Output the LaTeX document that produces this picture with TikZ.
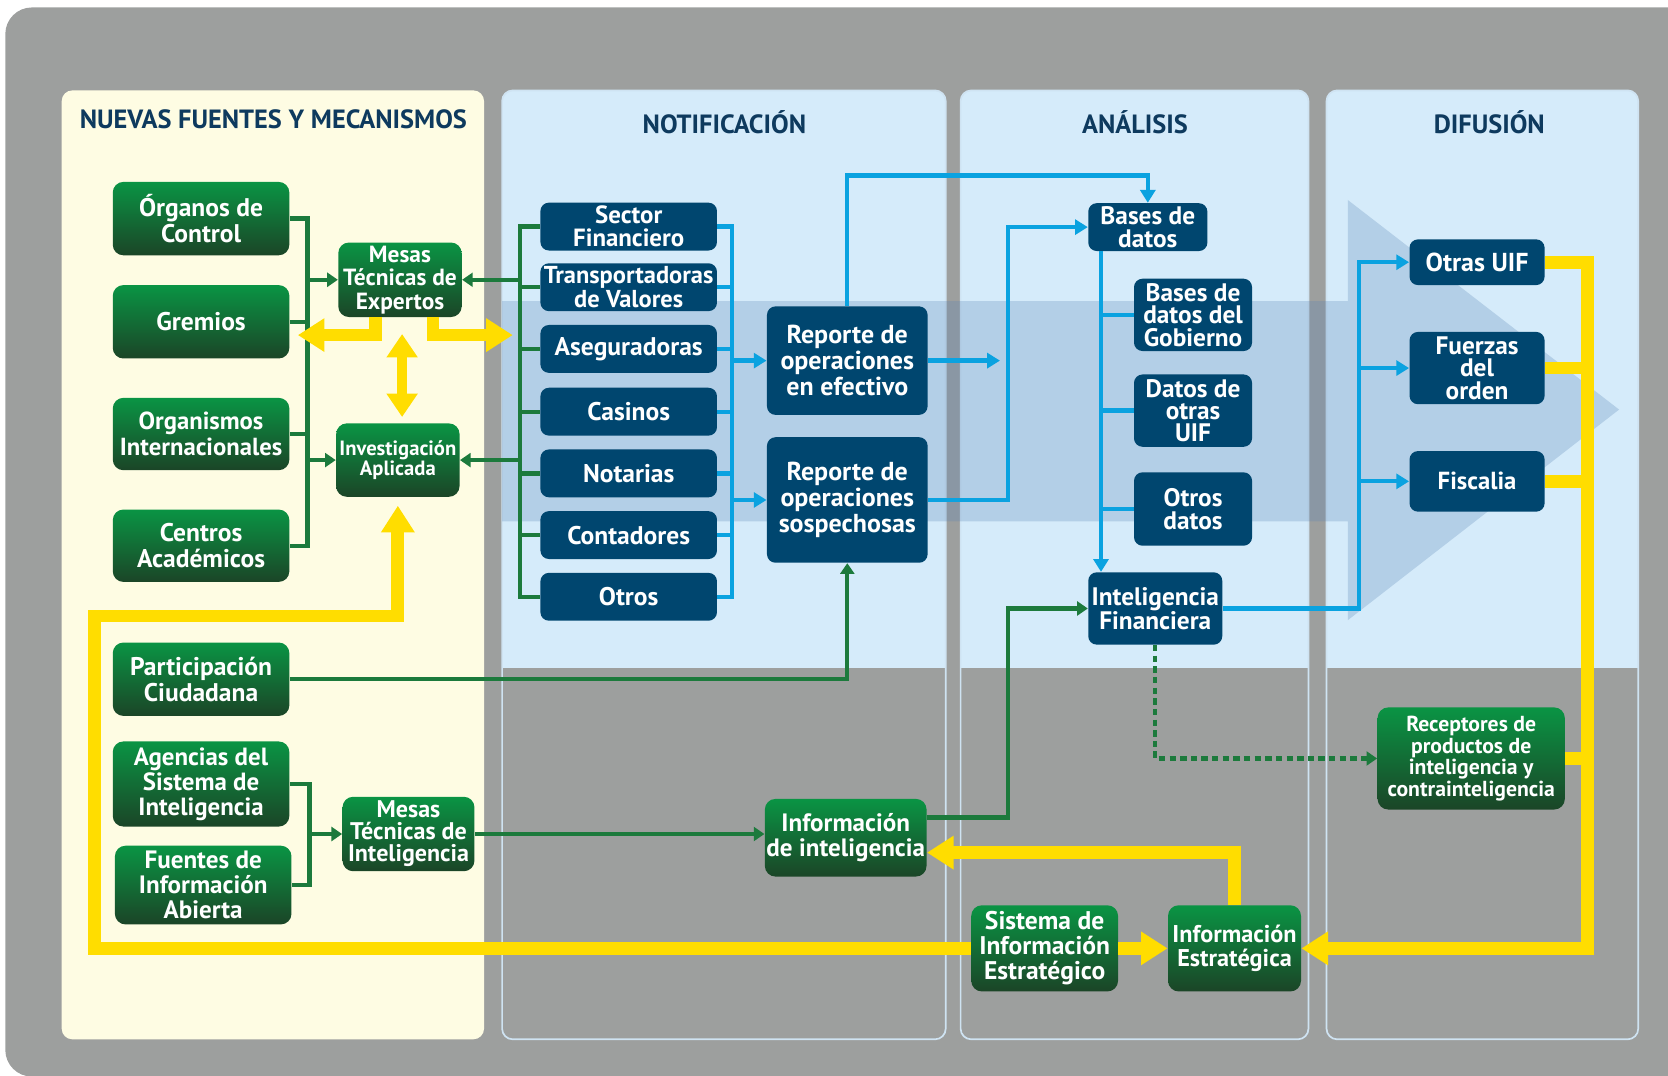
\documentclass[tikz,border=0pt]{standalone}
\usepackage{fontspec}
\setmainfont{PT Sans}
\usetikzlibrary{arrows.meta}
\definecolor{bg}{HTML}{9D9F9E}
\definecolor{cream}{HTML}{FEFCE3}
\definecolor{lblue}{HTML}{D5EBFA}
\definecolor{pline}{HTML}{CFE3F2}
\definecolor{navy}{HTML}{00466F}
\definecolor{cyanl}{HTML}{0AA2E0}
\definecolor{gline}{HTML}{1C7A3C}
\definecolor{yel}{HTML}{FFDD00}
\definecolor{gtop}{HTML}{0A9444}
\definecolor{gbot}{HTML}{1B4527}
\definecolor{headc}{HTML}{0E3A5E}
\definecolor{bandc}{RGB}{89,133,181}
\newcommand{\fsz}[2]{\fontsize{#1}{#2}\selectfont\bfseries}
\begin{document}
\begin{tikzpicture}[x=0.5pt,y=-0.5pt,
  gbox/.style={rounded corners=5pt, top color=gtop, bottom color=gbot, text=white, align=center, inner sep=0pt},
  bbox/.style={rounded corners=4pt, fill=navy, text=white, align=center, inner sep=0pt},
  gl/.style={draw=gline, line width=2pt},
  ga/.style={gl, -{Triangle[length=5pt,width=6.5pt]}},
  cl/.style={draw=cyanl, line width=2pt},
  ca/.style={cl, -{Triangle[length=6pt,width=7pt]}},
  yl/.style={draw=yel, line width=6pt},
  ya/.style={yl, -{Triangle[length=12.5pt,width=15pt]}},
  hd/.style={text=headc, font=\fsz{12.4}{12.4}}
]
\useasboundingbox (0,0) rectangle (1568,1011);
% background
\fill[bg, rounded corners=12.5pt] (5,7) rectangle (1620,1012);
\fill[cream, rounded corners=5pt] (58,85) rectangle (455,977);
\foreach \xa/\xb in {472/889, 903/1230, 1247/1540}{
  \fill[lblue, rounded corners=5pt] (\xa,85) rectangle (\xb,977);
  \fill[bg] (\xa-2,628) rectangle (\xb+2,980);
  \draw[pline, line width=0.8pt, rounded corners=5pt] (\xa,85) rectangle (\xb,977);
}
% big band arrow
\fill[bandc, opacity=0.27] (472,283) -- (1267,283) -- (1267,188) -- (1522,385) -- (1267,583) -- (1267,490) -- (472,490) -- cycle;
% headers
\node[hd] (hnf) at (257,112) {NUEVAS FUENTES Y MECANISMOS};
\node[hd] (hno) at (681,115) {NOTIFICACIÓN};
\node[hd] (han) at (1067,115) {ANÁLISIS};
\node[hd] (hdi) at (1400,115) {DIFUSIÓN};
% left green boxes
\node[gbox, minimum width=83pt, minimum height=34.5pt, font=\fsz{12}{12}] (org) at (189,205.5) {Órganos de\\Control};
\node[gbox, minimum width=83pt, minimum height=34.5pt, font=\fsz{12}{12}] (grem) at (189,302.5) {Gremios};
\node[gbox, minimum width=83pt, minimum height=34pt, font=\fsz{11.6}{12}] (orgint) at (189,408) {Organismos\\Internacionales};
\node[gbox, minimum width=83pt, minimum height=34pt, font=\fsz{12}{12}] (cen) at (189,513) {Centros\\Académicos};
\node[gbox, minimum width=83pt, minimum height=34.5pt, font=\fsz{12}{12}] (par) at (189,638.5) {Participación\\Ciudadana};
\node[gbox, minimum width=83pt, minimum height=40pt, font=\fsz{11.7}{11.75}] (age) at (189,737) {Agencias del\\Sistema de\\Inteligencia};
\node[gbox, minimum width=83pt, minimum height=37pt, font=\fsz{11.8}{11.75}] (fue) at (191,832) {Fuentes de\\Información\\Abierta};
\node[gbox, minimum width=58pt, minimum height=35pt, font=\fsz{11}{11}] (mte) at (376,263) {Mesas\\Técnicas de\\Expertos};
\node[gbox, minimum width=58pt, minimum height=34.5pt, font=\fsz{9.7}{9.5}] (inv) at (374,432.5) {Investigación\\Aplicada};
\node[gbox, minimum width=62pt, minimum height=35pt, font=\fsz{11.3}{10.3}] (mti) at (384,784) {Mesas\\Técnicas de\\Inteligencia};
% notificacion boxes
\node[bbox, minimum width=83pt, minimum height=22.5pt, font=\fsz{11.7}{11}] (sf) at (591,213) {Sector\\Financiero};
\node[bbox, minimum width=83pt, minimum height=22.5pt, font=\fsz{11.5}{11}] (tv) at (591,270) {Transportadoras\\de Valores};
\node[bbox, minimum width=83pt, minimum height=22.5pt, font=\fsz{12}{12}] (as) at (591,328) {Aseguradoras};
\node[bbox, minimum width=83pt, minimum height=22.5pt, font=\fsz{12}{12}] (ca) at (591,387) {Casinos};
\node[bbox, minimum width=83pt, minimum height=22.5pt, font=\fsz{12}{12}] (no) at (591,445) {Notarias};
\node[bbox, minimum width=83pt, minimum height=22.5pt, font=\fsz{12}{12}] (co) at (591,503) {Contadores};
\node[bbox, minimum width=83pt, minimum height=22.5pt, font=\fsz{12}{12}] (ot) at (591,561) {Otros};
\node[bbox, minimum width=75.5pt, minimum height=51pt, font=\fsz{12.2}{12.3}] (rce) at (796.5,339) {Reporte de\\operaciones\\en efectivo};
\node[bbox, minimum width=75.5pt, minimum height=59pt, font=\fsz{12.2}{12.3}] (ros) at (796.5,470) {Reporte de\\operaciones\\sospechosas};
% analisis boxes
\node[bbox, minimum width=56pt, minimum height=22.5pt, font=\fsz{11.9}{10.5}] (bd) at (1079,213.5) {Bases de\\datos};
\node[bbox, minimum width=55.5pt, minimum height=34pt, font=\fsz{11.9}{10.5}] (bdg) at (1121.5,296) {Bases de\\datos del\\Gobierno};
\node[bbox, minimum width=55.5pt, minimum height=34pt, font=\fsz{11.9}{10.5}] (duif) at (1121.5,386) {Datos de\\otras\\UIF};
\node[bbox, minimum width=55.5pt, minimum height=34.5pt, font=\fsz{11.9}{10.8}] (od) at (1121.5,478.5) {Otros\\datos};
\node[bbox, minimum width=63pt, minimum height=34pt, font=\fsz{11.9}{11.5}] (if) at (1086,572) {Inteligencia\\Financiera};
% difusion boxes
\node[bbox, minimum width=63.5pt, minimum height=21.5pt, font=\fsz{12.2}{12}] (ouif) at (1388.5,246.5) {Otras UIF};
\node[bbox, minimum width=63.5pt, minimum height=34pt, font=\fsz{11.9}{10.5}] (fdo) at (1388.5,346) {Fuerzas\\del\\orden};
\node[bbox, minimum width=63.5pt, minimum height=28.5pt, font=\fsz{11.6}{12}] (fis) at (1388.5,452.5) {Fiscalia};
\node[gbox, minimum width=88pt, minimum height=48pt, font=\fsz{10.2}{10.2}] (rec) at (1383,713) {Receptores de\\productos de\\inteligencia y\\contrainteligencia};
% bottom boxes
\node[gbox, minimum width=76pt, minimum height=36.5pt, font=\fsz{11.8}{11.5}] (ii) at (795,787.5) {Información\\de inteligencia};
\node[gbox, minimum width=69pt, minimum height=40.5pt, font=\fsz{12}{11.75}] (sis) at (982,891.5) {Sistema de\\Información\\Estratégico};
\node[gbox, minimum width=62.5pt, minimum height=40.5pt, font=\fsz{11.4}{11.5}] (ie) at (1160.5,891.5) {Información\\Estratégica};
% coordinates
\coordinate (Lt) at (289,300);
\coordinate (Nt) at (489,300);
\coordinate (Bt) at (291,780);
\coordinate (Rt) at (688,300);
\coordinate (At) at (1035,300);
\coordinate (Dt) at (1277,572);
\coordinate (Yt) at (1492,500);
\coordinate (YL) at (89,579);
\coordinate (cT) at (796.5,165);
\coordinate (bandin) at (940,339);
\coordinate (mL) at (353,315);
\coordinate (mLt) at (280,315);
\coordinate (mR) at (407,315);
\coordinate (mRt) at (482,315);
\coordinate (dv1) at (378,314);
\coordinate (dv2) at (378,392);
% green connectors
\draw[gl] (org.east) -- (Lt |- org.east) -- (Lt |- cen.east) -- (cen.east);
\draw[gl] (grem.east) -- (Lt |- grem.east);
\draw[gl] (orgint.east) -- (Lt |- orgint.east);
\draw[ga] (Lt |- mte.west) -- (mte.west);
\draw[ga] (Lt |- inv.west) -- (inv.west);
\draw[gl] (sf.west) -- (Nt |- sf.west) -- (Nt |- ot.west) -- (ot.west);
\foreach \n in {tv,as,ca,no,co}{\draw[gl] (\n.west) -- (Nt |- \n.west);}
\draw[ga] (Nt |- mte.east) -- (mte.east);
\draw[ga] (Nt |- inv.east) -- (inv.east);
\draw[gl] (age.east) -- (Bt |- age.east) -- (Bt |- fue.east) -- (fue.east);
\draw[ga] (Bt |- mti.west) -- (mti.west);
\draw[ga] (par.east) -| (ros.south);
\draw[ga] (mti.east) -- (ii.west |- mti.east);
\draw[ga] ([yshift=9.5pt]ii.east) -- ++(76,0) |- (if.west);
\draw[gl, dash pattern=on 3pt off 2pt, -{Triangle[length=5pt,width=6.5pt]}] (if.south) |- (rec.west);
% cyan connectors
\draw[cl] (sf.east) -- (Rt |- sf.east) -- (Rt |- ot.east) -- (ot.east);
\foreach \n in {tv,as,ca,no,co}{\draw[cl] (\n.east) -- (Rt |- \n.east);}
\draw[ca] (Rt |- rce.west) -- (rce.west);
\draw[ca] (Rt |- ros.west) -- (ros.west);
\draw[ca] (rce.north) -- (cT) -| (bd.north);
\draw[ca] (rce.east) -- (bandin);
\draw[ca] (ros.east) -- ++(75,0) |- (bd.west);
\draw[ca] (bd.south -| At) -- (if.north -| At);
\foreach \n in {bdg,duif,od}{\draw[cl] (At |- \n.west) -- (\n.west);}
\draw[ca] (if.east) -- ++(128,0) |- (ouif.west);
\draw[ca] (Dt |- fdo.west) -- (fdo.west);
\draw[ca] (Dt |- fis.west) -- (fis.west);
% yellow connectors
\draw[ya] (ouif.east) -- (Yt |- ouif.east) -- (Yt |- ie.east) -- (ie.east);
\foreach \n in {fdo,fis,rec}{\draw[yl] (\n.east) -- (Yt |- \n.east);}
\draw[ya] (sis.east) -- (ie.west);
\draw[ya] (ie.north) |- ([yshift=-7pt]ii.east);
\draw[ya, shorten >=4pt] (sis.west) -| (YL) -| (inv.south);
\draw[ya] (mte.south -| mL) |- (mLt);
\draw[ya] (mte.south -| mR) |- (mRt);
\draw[draw=yel, line width=5pt, {Triangle[length=11pt,width=14pt]}-{Triangle[length=11pt,width=14pt]}] (dv1) -- (dv2);
\end{tikzpicture}
\end{document}
